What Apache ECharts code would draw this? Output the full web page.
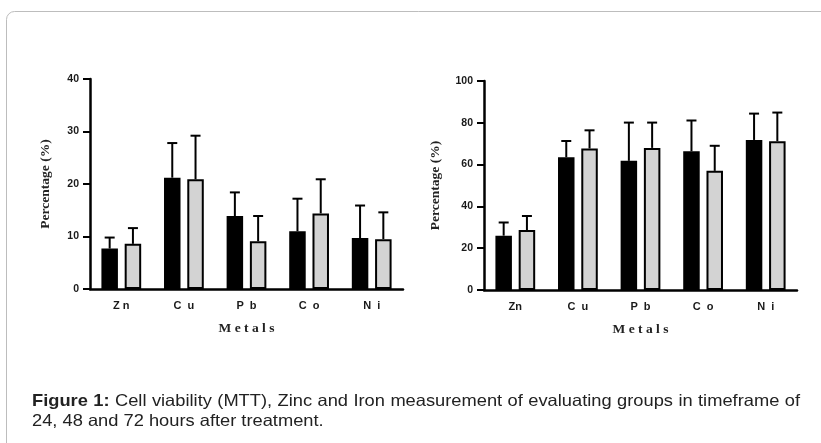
<!DOCTYPE html>
<html>
<head>
<meta charset="utf-8">
<title>Figure 1</title>
<script src="https://cdn.jsdelivr.net/npm/echarts@6/dist/echarts.min.js"></script>
<style>
  html, body { margin: 0; padding: 0; background: #fff; }
  #wrap { position: relative; width: 821px; height: 443px; overflow: hidden; }
  #chart { width: 821px; height: 443px; }
  #caption {
    position: absolute; left: 32px; top: 390px; width: 768px;
    font-family: "Liberation Sans", Arial, Helvetica, sans-serif;
    font-size: 18.3px; line-height: 23px; color: #222;
    transform: scaleY(0.89); transform-origin: 0 0;
  }
  #caption .l1 { text-align: justify; text-align-last: justify; }
  #caption b { font-weight: bold; }
</style>
</head>
<body>
<div id="wrap">
  <div id="chart"></div>
  <div id="caption">
    <div class="l1"><b>Figure 1:</b> Cell viability (MTT), Zinc and Iron measurement of evaluating groups in timeframe of</div>
    <div>24, 48 and 72 hours after treatment.</div>
  </div>
</div>
<script>
// categories and axis labels
const metals = ['Zn', 'Cu', 'Pb', 'Co', 'Ni'];
const leftLabels = ['Z n', 'C  u', 'P  b', 'C  o', 'N  i'];
const rightLabels = ['Zn', 'C  u', 'P  b', 'C  o', 'N  i'];

// left panel: mean and SD (upper error only)
const leftBlack = [7.7, 21.2, 13.9, 11.0, 9.7];
const leftBlackSd = [2.1, 6.6, 4.5, 6.2, 6.2];
const leftGray = [8.6, 20.9, 9.1, 14.4, 9.5];
const leftGraySd = [3.0, 8.3, 4.8, 6.5, 5.1];

// right panel
const rightBlack = [26.0, 63.5, 61.8, 66.4, 71.8];
const rightBlackSd = [6.3, 7.8, 18.3, 14.7, 12.6];
const rightGray = [28.7, 67.7, 68.0, 57.0, 71.2];
const rightGraySd = [6.7, 8.7, 12.1, 12.0, 13.7];

const SANS = '"Liberation Sans", Arial, Helvetica, sans-serif';
const SERIF = '"Liberation Serif", "Times New Roman", serif';
const BAR_W = 16.5;
const BAR_GAP = 0.41;
const OFF = (BAR_W + BAR_W * BAR_GAP) / 2;

function errData(mean, sd) {
  return mean.map((m, i) => [i, m, m + sd[i]]);
}

function errorRender(offset) {
  return function (params, api) {
    const i = api.value(0);
    const base = api.coord([i, api.value(1)]);
    const top = api.coord([i, api.value(2)]);
    const x = base[0] + offset;
    const st = { stroke: '#000', lineWidth: 2 };
    return {
      type: 'group',
      children: [
        { type: 'line', shape: { x1: x, y1: base[1], x2: x, y2: top[1] }, style: st },
        { type: 'line', shape: { x1: x - 5, y1: top[1], x2: x + 5, y2: top[1] }, style: st },
      ],
    };
  };
}

function xAxisFor(gridIndex, labels) {
  return {
    type: 'category',
    gridIndex: gridIndex,
    data: metals,
    name: 'M e t a l s',
    nameLocation: 'middle',
    nameGap: 33,
    nameTextStyle: { fontFamily: SERIF, fontWeight: 'bold', fontSize: 13.5, color: '#222' },
    axisLine: { lineStyle: { color: '#000', width: 2.5 } },
    axisTick: { alignWithLabel: true, length: 3, lineStyle: { color: '#000', width: 2 } },
    axisLabel: {
      margin: 11,
      fontFamily: SANS, fontWeight: 'bold', fontSize: 11, color: '#1a1a1a',
      formatter: (v, idx) => labels[idx],
    },
  };
}

function yAxisFor(gridIndex, max, interval, gap) {
  return {
    type: 'value',
    gridIndex: gridIndex,
    min: 0,
    max: max,
    interval: interval,
    name: 'Percentage (%)',
    nameLocation: 'middle',
    nameGap: gap,
    nameTextStyle: { fontFamily: SERIF, fontWeight: 'bold', fontSize: 13.5, color: '#222' },
    axisLine: { show: true, lineStyle: { color: '#000', width: 2.5 } },
    axisTick: { show: true, length: 7, lineStyle: { color: '#000', width: 2 } },
    axisLabel: { margin: 11, fontFamily: SANS, fontWeight: 'bold', fontSize: 10.5, color: '#1a1a1a' },
    splitLine: { show: false },
  };
}

function barSeries(idx, data, color) {
  return {
    type: 'bar',
    xAxisIndex: idx,
    yAxisIndex: idx,
    data: data,
    barWidth: BAR_W,
    barGap: (BAR_GAP * 100) + '%',
    itemStyle: { color: color, borderColor: '#000', borderWidth: 2 },
    emphasis: { disabled: true },
  };
}

function errSeries(idx, mean, sd, offset) {
  return {
    type: 'custom',
    xAxisIndex: idx,
    yAxisIndex: idx,
    data: errData(mean, sd),
    encode: { x: 0, y: [1, 2] },
    renderItem: errorRender(offset),
    z: 3,
  };
}

const chart = echarts.init(document.getElementById('chart'));
chart.setOption({
  animation: false,
  backgroundColor: '#fff',
  grid: [
    { left: 90, top: 79, width: 313, height: 210 },
    { left: 484, top: 81, width: 313, height: 209 },
  ],
  xAxis: [xAxisFor(0, leftLabels), xAxisFor(1, rightLabels)],
  yAxis: [yAxisFor(0, 40, 10, 37), yAxisFor(1, 100, 20, 41)],
  series: [
    barSeries(0, leftBlack, '#000'),
    barSeries(0, leftGray, '#d3d3d3'),
    errSeries(0, leftBlack, leftBlackSd, -OFF),
    errSeries(0, leftGray, leftGraySd, OFF),
    barSeries(1, rightBlack, '#000'),
    barSeries(1, rightGray, '#d3d3d3'),
    errSeries(1, rightBlack, rightBlackSd, -OFF),
    errSeries(1, rightGray, rightGraySd, OFF),
  ],
  graphic: [
    {
      type: 'rect',
      shape: { x: 6.5, y: 11.5, width: 900, height: 520, r: 8 },
      style: { fill: 'none', stroke: '#bdbdbd', lineWidth: 1 },
      silent: true,
    },
  ],
});
</script>
</body>
</html>
